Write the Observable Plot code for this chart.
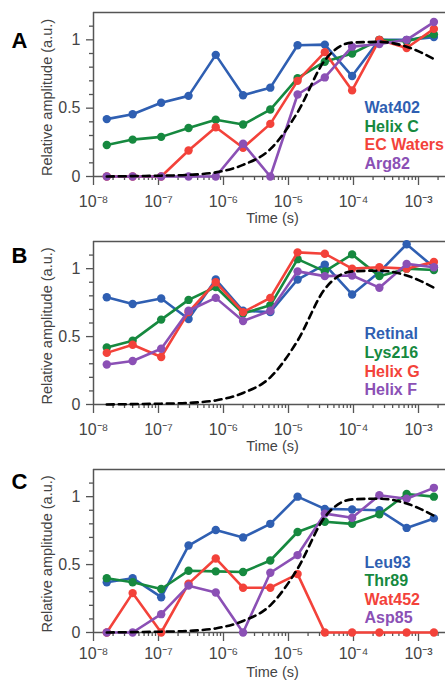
<!DOCTYPE html>
<html>
<head>
<meta charset="utf-8">
<script src="https://cdn.jsdelivr.net/npm/d3@7"></script>
<script src="https://cdn.jsdelivr.net/npm/@observablehq/plot@0.6"></script>
<style>
  html, body { margin: 0; padding: 0; background: #fff; }
  #chart svg { display: block; }
</style>
</head>
<body>
<div id="chart"></div>
<script>
// Time points (s)
const times = [1.6e-8, 4e-8, 1.1e-7, 2.9e-7, 7.6e-7, 2e-6, 5.25e-6, 1.38e-5, 3.62e-5, 9.52e-5, 2.5e-4, 6.57e-4, 1.725e-3];
// Dashed reference curve (at the same time points)
const fitCurve = [0, 0.003, 0.006, 0.012, 0.03, 0.085, 0.2, 0.47, 0.85, 0.98, 0.985, 0.95, 0.86];

// Panel A
const namesA = ["Wat402", "Helix C", "EC Waters", "Arg82"];
const wat402   = [0.42, 0.455, 0.54, 0.59, 0.89, 0.595, 0.65, 0.96, 0.965, 0.735, 1.0, 1.0, 1.02];
const helixC   = [0.23, 0.27, 0.29, 0.355, 0.415, 0.38, 0.49, 0.72, 0.84, 0.9, 1.0, 0.99, 1.04];
const ecWaters = [0, 0, 0, 0.19, 0.36, 0.21, 0.385, 0.70, 0.91, 0.63, 1.0, 0.94, 1.08];
const arg82    = [0, 0, 0, 0, 0, 0.24, 0, 0.60, 0.725, 0.95, 0.97, 1.0, 1.13];

// Panel B
const namesB = ["Retinal", "Lys216", "Helix G", "Helix F"];
const retinal = [0.79, 0.74, 0.78, 0.63, 0.92, 0.69, 0.68, 0.92, 1.03, 0.81, 0.975, 1.18, 1.01];
const lys216  = [0.42, 0.47, 0.625, 0.77, 0.865, 0.67, 0.73, 1.07, 0.98, 1.105, 0.945, 1.0, 0.99];
const helixG  = [0.38, 0.44, 0.35, 0.68, 0.90, 0.68, 0.785, 1.12, 1.11, 1.0, 1.01, 1.0, 1.05];
const helixF  = [0.295, 0.32, 0.41, 0.69, 0.785, 0.615, 0.69, 0.98, 0.945, 0.95, 0.86, 1.035, 1.01];

// Panel C
const namesC = ["Leu93", "Thr89", "Wat452", "Asp85"];
const leu93  = [0.37, 0.40, 0.26, 0.64, 0.755, 0.70, 0.80, 1.0, 0.91, 0.905, 0.90, 0.77, 0.84];
const thr89  = [0.40, 0.37, 0.32, 0.455, 0.45, 0.445, 0.53, 0.74, 0.815, 0.80, 0.87, 1.02, 1.0];
const wat452 = [0, 0.29, 0, 0.36, 0.545, 0.33, 0.33, 0.43, 0, 0, 0, 0, 0];
const asp85  = [0, 0, 0.135, 0.345, 0.295, 0, 0.44, 0.57, 0.875, 0.845, 1.01, 0.985, 1.065];

// Axis ticks
const xDecades = [1e-8, 1e-7, 1e-6, 1e-5, 1e-4, 1e-3];
const yMajor = [0, 0.5, 1];
const yMinor = [0.1, 0.2, 0.3, 0.4, 0.6, 0.7, 0.8, 0.9, 1.1];

const colors = ["#2f5fb2", "#16893f", "#f3423a", "#8b50b5"];
const axisColor = "#555";
const font = "'Liberation Sans', Arial, Helvetica, sans-serif";

const xMax = Math.pow(10, -8 + 352 / 65);
const xMinor = [];
for (let k = -8; k <= -3; k++) for (let m = 2; m <= 9; m++) {
  const v = m * Math.pow(10, k);
  if (v < xMax) xMinor.push(v);
}
const sup = {"-": "\u207B", "0": "\u2070", "1": "\u00B9", "2": "\u00B2", "3": "\u00B3", "4": "\u2074", "5": "\u2075", "6": "\u2076", "7": "\u2077", "8": "\u2078", "9": "\u2079"};
const fmtX = d => "10" + String(Math.round(Math.log10(d))).split("").map(c => sup[c]).join("");

function panel({letter, names, series, height, marginTop, marginBottom, letterDy, legendDy, timeDy, xPad}) {
  const fit = times.map((t, j) => ({t, v: fitCurve[j]}));
  const seriesMarks = names.flatMap((n, i) => {
    const rows = times.map((t, j) => ({t, v: series[i][j]}));
    return [
      Plot.line(rows, {x: "t", y: "v", stroke: colors[i], strokeWidth: 2.6}),
      Plot.dot(rows, {x: "t", y: "v", fill: colors[i], r: 4.2})
    ];
  });
  const legendMarks = names.map((n, i) =>
    Plot.text([n], {text: d => d, frameAnchor: "top-left", dx: 271, dy: legendDy[i],
      textAnchor: "start", lineAnchor: "middle", fill: colors[i], fontSize: 16, fontWeight: "bold", fontFamily: font}));
  return Plot.plot({
    width: 445, height, marginLeft: 93, marginRight: 0, marginTop, marginBottom,
    style: {fontFamily: font, background: "white", color: "#444", overflow: "visible"},
    x: {type: "log", domain: [1e-8, xMax], label: null},
    y: {domain: [0, 1.2], label: null},
    marks: [
      Plot.axisX(xMinor, {tickSize: 4, tickFormat: () => "", stroke: axisColor, strokeWidth: 1.3, label: null}),
      Plot.axisX(xDecades, {tickSize: 9, tickPadding: xPad, tickFormat: fmtX, fontSize: 16, stroke: axisColor, strokeWidth: 1.3, fill: "#444", label: null}),
      Plot.axisY(yMinor, {tickSize: 4, tickFormat: () => "", stroke: axisColor, strokeWidth: 1.3, label: null}),
      Plot.axisY(yMajor, {tickSize: 7, tickPadding: 6, tickFormat: d => String(d), fontSize: 16, stroke: axisColor, strokeWidth: 1.3, fill: "#444", label: null}),
      Plot.ruleY([0], {stroke: axisColor, strokeWidth: 1.5}),
      Plot.ruleY([1.2], {stroke: axisColor, strokeWidth: 1.5}),
      Plot.ruleX([1e-8], {stroke: axisColor, strokeWidth: 1.5}),
      ...seriesMarks,
      Plot.line(fit, {x: "t", y: "v", stroke: "black", strokeWidth: 2.6, strokeDasharray: "7,5", curve: "monotone-x"}),
      ...legendMarks,
      Plot.text([letter], {text: d => d, frameAnchor: "top-left", dx: -82, dy: letterDy, textAnchor: "start", lineAnchor: "bottom", fontSize: 22, fontWeight: "bold", fill: "black", fontFamily: font}),
      Plot.text(["Relative amplitude (a.u.)"], {text: d => d, frameAnchor: "left", rotate: -90, dx: -46, dy: 3, textAnchor: "middle", lineAnchor: "middle", fontSize: 14.5, fill: "#444", fontFamily: font}),
      Plot.text(["Time (s)"], {text: d => d, frameAnchor: "bottom", dx: 3, dy: timeDy, textAnchor: "middle", lineAnchor: "middle", fontSize: 14.5, fill: "#444", fontFamily: font})
    ]
  });
}

const chart = document.getElementById("chart");
chart.append(panel({letter: "A", names: namesA, series: [wat402, helixC, ecWaters, arg82],
  height: 228, marginTop: 12, marginBottom: 52, letterDy: 35, legendDy: [95, 114, 132.5, 151], timeDy: 42, xPad: 10}));
chart.append(panel({letter: "B", names: namesB, series: [retinal, lys216, helixG, helixF],
  height: 228, marginTop: 13, marginBottom: 52, letterDy: 21, legendDy: [92.5, 111, 130, 148.5], timeDy: 42, xPad: 10}));
chart.append(panel({letter: "C", names: namesC, series: [leu93, thr89, wat452, asp85],
  height: 224, marginTop: 13, marginBottom: 48, letterDy: 19, legendDy: [93, 111.5, 130.5, 148.5], timeDy: 40, xPad: 6}));
</script>
</body>
</html>
